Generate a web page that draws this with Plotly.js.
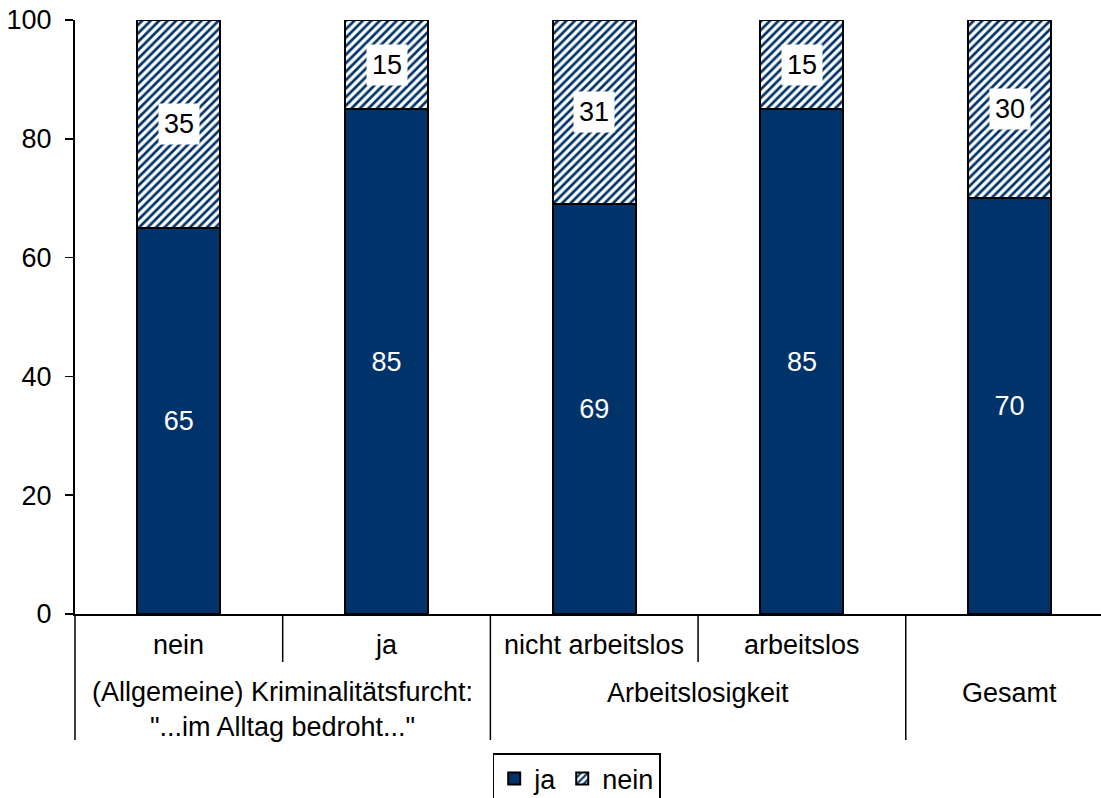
<!DOCTYPE html>
<html>
<head>
<meta charset="utf-8">
<script src="https://cdn.plot.ly/plotly-3.0.1.min.js"></script>
<style>html,body{margin:0;padding:0;background:#fff;}#chart{width:1101px;height:798px;}</style>
</head>
<body>
<div id="chart"></div>
<script>
// Data
const subLabels = ["nein", "ja", "nicht arbeitslos", "arbeitslos", ""];
const groupLabels = ["(Allgemeine) Kriminalitätsfurcht:<br>\"...im Alltag bedroht...\"", "Arbeitslosigkeit", "Gesamt"];
const groupSpans = [[0, 1], [2, 3], [4, 4]];
const jaValues = [65, 85, 69, 85, 70];
const neinValues = [35, 15, 31, 15, 30];
const yTicks = [0, 20, 40, 60, 80, 100];

const navy = "#00336A";
const font = "Liberation Sans, Arial, sans-serif";
const fs = 27;
const xs = subLabels.map((_, i) => i);

const traces = [
  {
    type: "bar", name: "ja", x: xs, y: jaValues,
    width: 0.4,
    marker: {color: navy, line: {color: "#000", width: 2}},
    text: jaValues.map(String), textposition: "inside", insidetextanchor: "middle",
    textfont: {color: "#fff", size: fs, family: font},
    hoverinfo: "skip"
  },
  {
    type: "bar", name: "nein", x: xs, y: neinValues,
    width: 0.4,
    marker: {color: "#fff", line: {color: "#000", width: 2},
             pattern: {shape: "/", fgcolor: navy, bgcolor: "#fff", size: 6, solidity: 0.45}},
    hoverinfo: "skip"
  }
];

const annotations = [];
// nein value labels with white box
neinValues.forEach((v, i) => {
  annotations.push({
    x: i, y: jaValues[i] + v / 2, xref: "x", yref: "y",
    text: String(v), showarrow: false,
    font: {size: fs, color: "#000", family: font},
    bgcolor: "#fff", borderpad: 5
  });
});
// sub labels (row 1)
subLabels.forEach((s, i) => {
  if (!s) return;
  annotations.push({
    x: i, y: 0, xref: "x", yref: "paper", yshift: -31,
    text: s, showarrow: false, yanchor: "middle",
    font: {size: fs, color: "#000", family: font}
  });
});
// group labels (row 2)
groupLabels.forEach((g, k) => {
  const [a, b] = groupSpans[k];
  const twoLines = g.indexOf("<br>") >= 0;
  annotations.push({
    x: (a + b) / 2, y: 0, xref: "x", yref: "paper",
    yshift: twoLines ? -95 : -79,
    text: g, showarrow: false, yanchor: "middle",
    font: {size: fs, color: "#000", family: font}
  });
});

const shapes = [];
const plotH = 798 - 20 - 184;
const shortY = -48 / plotH;
const longY = -126 / plotH;
shapes.push({type: "line", xref: "x domain", yref: "paper", x0: 0, x1: 0, y0: 0, y1: longY,
             line: {color: "#000", width: 1.5}});
for (let i = 1; i < subLabels.length; i++) {
  const isGroupBoundary = groupSpans.some(s => s[0] === i);
  shapes.push({type: "line", xref: "x", yref: "paper", x0: i - 0.5, x1: i - 0.5,
               y0: 0, y1: isGroupBoundary ? longY : shortY,
               line: {color: "#000", width: 1.5}});
}

const layout = {
  width: 1101, height: 798,
  margin: {l: 75, r: 0, t: 20, b: 184, autoexpand: false},
  paper_bgcolor: "#fff", plot_bgcolor: "#fff",
  barmode: "stack",
  font: {family: font, size: fs, color: "#000"},
  showlegend: true,
  legend: {
    orientation: "h", x: 0.489, xanchor: "center", y: -139 / plotH, yanchor: "top",
    bordercolor: "#000", borderwidth: 1.5, bgcolor: "#fff",
    font: {size: fs, family: font, color: "#000"},
    traceorder: "normal", itemclick: false, itemdoubleclick: false, itemwidth: 30
  },
  xaxis: {
    range: [-0.5, 4.44], showticklabels: false, ticks: "", showgrid: false, zeroline: false,
    showline: true, linecolor: "#000", linewidth: 2, fixedrange: true
  },
  yaxis: {
    range: [0, 100], tickvals: yTicks, ticktext: yTicks.map(String),
    ticks: "outside", ticklen: 8, tickwidth: 1.5, tickcolor: "#000", ticklabelstandoff: 8,
    showgrid: false, zeroline: false, showline: true, linecolor: "#000", linewidth: 2,
    tickfont: {size: fs, family: font, color: "#000"}, fixedrange: true
  },
  annotations: annotations,
  shapes: shapes
};

Plotly.newPlot("chart", traces, layout, {displayModeBar: false, staticPlot: true});
</script>
</body>
</html>
